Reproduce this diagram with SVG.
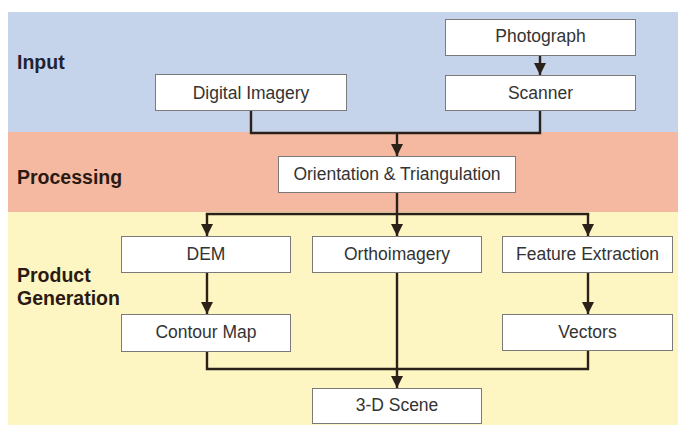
<svg xmlns="http://www.w3.org/2000/svg" width="678" height="425" viewBox="0 0 678 425">
  <style>
    .band-label { font-family: "Liberation Sans", Arial, sans-serif; font-size: 19.5px; font-weight: bold; }
    .node rect { fill: #ffffff; stroke: #7a7a7a; stroke-width: 1; }
    .node text { font-family: "Liberation Sans", Arial, sans-serif; font-size: 17.5px; fill: #333333; text-anchor: middle; }
    .conn { fill: none; stroke: #2b2118; stroke-width: 2.4; }
  </style>
  <defs>
    <marker id="arrow" markerUnits="userSpaceOnUse" markerWidth="13" markerHeight="13" viewBox="0 0 13 13" refX="12" refY="6.5" orient="auto">
      <path d="M0,0.5 L12,6.5 L0,12.5 Z" fill="#2b2118"/>
    </marker>
  </defs>

  <rect width="678" height="425" fill="#ffffff"/>

  <!-- stage bands -->
  <g id="bands">
    <rect x="8" y="12" width="670" height="120" fill="#c6d4eb"/>
    <rect x="8" y="132" width="670" height="80" fill="#f5b9a1"/>
    <rect x="8" y="212" width="670" height="213" fill="#fdf6c3"/>
    <text class="band-label" x="17" y="69" fill="#1e2433">Input</text>
    <text class="band-label" x="17" y="184" fill="#2a1a12">Processing</text>
    <text class="band-label" x="17" y="282" fill="#2a1a12">Product</text>
    <text class="band-label" x="17" y="305" fill="#2a1a12">Generation</text>
  </g>

  <!-- connectors -->
  <g id="connectors">
    <line class="conn" x1="540" y1="55" x2="540" y2="75" marker-end="url(#arrow)"/>
    <polyline class="conn" points="251,110 251,133 540,133 540,110"/>
    <line class="conn" x1="397" y1="133" x2="397" y2="156" marker-end="url(#arrow)"/>
    <line class="conn" x1="397" y1="192" x2="397" y2="214"/>
    <line class="conn" x1="205.8" y1="214" x2="589.2" y2="214"/>
    <line class="conn" x1="207" y1="214" x2="207" y2="236" marker-end="url(#arrow)"/>
    <line class="conn" x1="397" y1="214" x2="397" y2="236" marker-end="url(#arrow)"/>
    <line class="conn" x1="588" y1="214" x2="588" y2="236" marker-end="url(#arrow)"/>
    <line class="conn" x1="207" y1="273" x2="207" y2="314" marker-end="url(#arrow)"/>
    <line class="conn" x1="588" y1="272" x2="588" y2="314" marker-end="url(#arrow)"/>
    <polyline class="conn" points="207,352 207,369 588,369 588,350"/>
    <line class="conn" x1="397" y1="272" x2="397" y2="388" marker-end="url(#arrow)"/>
  </g>

  <!-- nodes -->
  <g id="photograph" class="node">
    <rect x="445.5" y="19.5" width="190" height="36"/>
    <text x="540.5" y="42">Photograph</text>
  </g>
  <g id="scanner" class="node">
    <rect x="445.5" y="75.5" width="190" height="35"/>
    <text x="540.5" y="99">Scanner</text>
  </g>
  <g id="digital-imagery" class="node">
    <rect x="155.5" y="74.5" width="191" height="36"/>
    <text x="251" y="99">Digital Imagery</text>
  </g>
  <g id="orientation" class="node">
    <rect x="278.5" y="156.5" width="237" height="36"/>
    <text x="397" y="180">Orientation &amp; Triangulation</text>
  </g>
  <g id="dem" class="node">
    <rect x="121.5" y="236.5" width="169" height="36"/>
    <text x="206" y="260">DEM</text>
  </g>
  <g id="orthoimagery" class="node">
    <rect x="312.5" y="236.5" width="169" height="36"/>
    <text x="397" y="260">Orthoimagery</text>
  </g>
  <g id="feature-extraction" class="node">
    <rect x="502.5" y="236.5" width="170" height="36"/>
    <text x="587.5" y="260">Feature Extraction</text>
  </g>
  <g id="contour-map" class="node">
    <rect x="121.5" y="314.5" width="169" height="37"/>
    <text x="206" y="338">Contour Map</text>
  </g>
  <g id="vectors" class="node">
    <rect x="502.5" y="314.5" width="170" height="36"/>
    <text x="587.5" y="338">Vectors</text>
  </g>
  <g id="scene-3d" class="node">
    <rect x="312.5" y="388.5" width="169" height="35"/>
    <text x="397" y="411">3-D Scene</text>
  </g>
</svg>
